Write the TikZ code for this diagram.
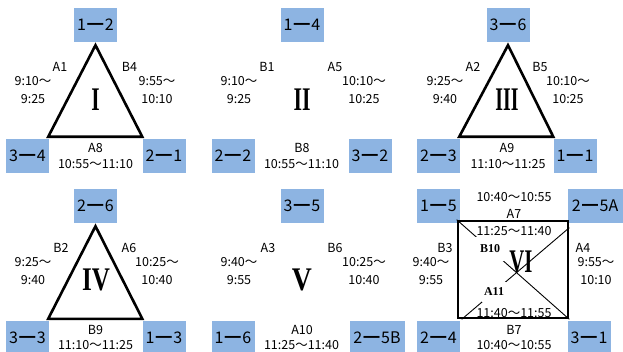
\documentclass[tikz,border=0pt]{standalone}
\usepackage{fontspec}
\setmainfont{Noto Sans CJK JP}
\newfontfamily\numfont{Liberation Serif}
\usetikzlibrary{calc,positioning,backgrounds}
\definecolor{roomblue}{HTML}{8DB4E2}
\newcommand{\zonenum}[2]{\scalebox{#1}[1]{\numfont\bfseries\fontsize{33}{33}\selectfont #2}}
\newcommand{\roomdash}{\kern1.5pt━\kern1.5pt}

\tikzset{
  room/.style={fill=roomblue,minimum width=43pt,minimum height=34pt,inner sep=0pt,font=\fontsize{16}{16}\selectfont},
  wide room/.style={room,minimum width=55pt},
  slot/.style={inner sep=1pt,align=center,font=\fontsize{12.5}{18}\selectfont},
  tri/.style={line width=2.6pt,line join=miter},
  diag/.style={line width=0.9pt},
  tag/.style={fill=white,inner sep=0pt,font=\numfont\bfseries\fontsize{12}{12}\selectfont}
}

\begin{document}
\begin{tikzpicture}[x=1pt,y=-1pt]
  \useasboundingbox (0,0) rectangle (623,352);

  % I
  \node[room] (r12) at (95.5,25) {1\roomdash2};
  \node[room] (r34) at (27.5,156) {3\roomdash4};
  \node[room] (r21) at (164,156) {2\roomdash1};
  \node[slot] (a1) at (60,67) {A1};
  \node[slot] (a1t) at (33,90) {9:10～\\9:25};
  \node[slot] (b4) at (129.5,67) {B4};
  \node[slot] (b4t) at (157,90) {9:55～\\10:10};
  \node (z1) at (95.5,100) {\zonenum{0.65}{I}};
  \node[slot] (a8) at (95.5,148) {A8};
  \node[slot] (a8t) at (95.5,164) {10:55～11:10};
  \begin{scope}[on background layer]
    \draw[tri] ($(r12.south)+(0,3)$) -- ($(r34.north east)+(-1,-2)$) -- ($(r21.north west)+(0,-2)$) -- cycle;
  \end{scope}

  % II
  \node[room] (r14) at (302,25) {1\roomdash4};
  \node[room] (r22) at (233,156) {2\roomdash2};
  \node[room] (r32) at (370,156) {3\roomdash2};
  \node[slot] (b1) at (267,67) {B1};
  \node[slot] (b1t) at (239,90) {9:10～\\9:25};
  \node[slot] (a5) at (335,67) {A5};
  \node[slot] (a5t) at (364,90) {10:10～\\10:25};
  \node (z2) at (302,100) {\zonenum{0.66}{II}};
  \node[slot] (b8) at (302,148) {B8};
  \node[slot] (b8t) at (301.5,164) {10:55～11:10};

  % III
  \node[room] (r36) at (508,25) {3\roomdash6};
  \node[room] (r23) at (438.5,156) {2\roomdash3};
  \node[room] (r11) at (575,156) {1\roomdash1};
  \node[slot] (a2) at (473,67) {A2};
  \node[slot] (a2t) at (445,90) {9:25～\\9:40};
  \node[slot] (b5) at (540,67) {B5};
  \node[slot] (b5t) at (568,90) {10:10～\\10:25};
  \node (z3) at (507,100) {\zonenum{0.6}{III}};
  \node[slot] (a9) at (507,148) {A9};
  \node[slot] (a9t) at (508,164) {11:10～11:25};
  \begin{scope}[on background layer]
    \draw[tri] ($(r36.south)+(0,3)$) -- ($(r23.north east)+(-1,-2)$) -- ($(r11.north west)+(0,-2)$) -- cycle;
  \end{scope}

  % IV
  \node[room] (r26) at (95.5,206) {2\roomdash6};
  \node[room] (r33) at (27.5,338) {3\roomdash3};
  \node[room] (r13) at (164,338) {1\roomdash3};
  \node[slot] (b2) at (61,248) {B2};
  \node[slot] (b2t) at (33,271) {9:25～\\9:40};
  \node[slot] (a6) at (129,248) {A6};
  \node[slot] (a6t) at (157,271) {10:25～\\10:40};
  \node (z4) at (96,280) {\zonenum{0.76}{IV}};
  \node[slot] (b9) at (95.5,330) {B9};
  \node[slot] (b9t) at (95.5,345) {11:10～11:25};
  \begin{scope}[on background layer]
    \draw[tri] ($(r26.south)+(0,3)$) -- ($(r33.north east)+(-1,-2)$) -- ($(r13.north west)+(0,-2)$) -- cycle;
  \end{scope}

  % V
  \node[room] (r35) at (302,206) {3\roomdash5};
  \node[room] (r16) at (233,338) {1\roomdash6};
  \node[wide room] (r25b) at (377,338) {2\roomdash5B};
  \node[slot] (a3) at (268,248) {A3};
  \node[slot] (a3t) at (239,271) {9:40～\\9:55};
  \node[slot] (b6) at (335,248) {B6};
  \node[slot] (b6t) at (364,271) {10:25～\\10:40};
  \node (z5) at (302,280) {\zonenum{0.84}{V}};
  \node[slot] (a10) at (302,330) {A10};
  \node[slot] (a10t) at (301.5,345) {11:25～11:40};

  % VI
  \node[room] (r15) at (438.5,206) {1\roomdash5};
  \node[wide room] (r25a) at (595,206) {2\roomdash5A};
  \node[room] (r24) at (438.5,338) {2\roomdash4};
  \node[room] (r31) at (589,338) {3\roomdash1};
  \node[draw,line width=2.6pt,minimum width=110pt,minimum height=97pt,inner sep=0pt] (sq) at (513,269.5) {};
  \draw[diag] (sq.north west) -- (sq.south east);
  \draw[diag] ($(sq.north east)+(0,8)$) -- ($(sq.south west)+(5,0)$);
  \node[slot] (a7s) at (514,197) {10:40～10:55};
  \node[slot] (a7) at (514,214) {A7};
  \node[slot] (b10t) at (514,231) {11:25～11:40};
  \node[slot] (b3) at (445,248) {B3};
  \node[slot] (b3t) at (431,271) {9:40～\\9:55};
  \node[slot] (a4) at (583,248) {A4};
  \node[slot] (a4t) at (596,271) {9:55～\\10:10};
  \node[tag,minimum width=30pt,minimum height=24pt] (b10) at (490,249) {B10};
  \node (z6) at (521,262) {\zonenum{0.63}{VI}};
  \node[tag,minimum width=24pt,minimum height=20pt] (a11) at (494,292) {A11};
  \node[slot] (a11t) at (514,313) {11:40～11:55};
  \node[slot] (b7) at (514,330) {B7};
  \node[slot] (b7t) at (514,345) {10:40～10:55};
\end{tikzpicture}
\end{document}
